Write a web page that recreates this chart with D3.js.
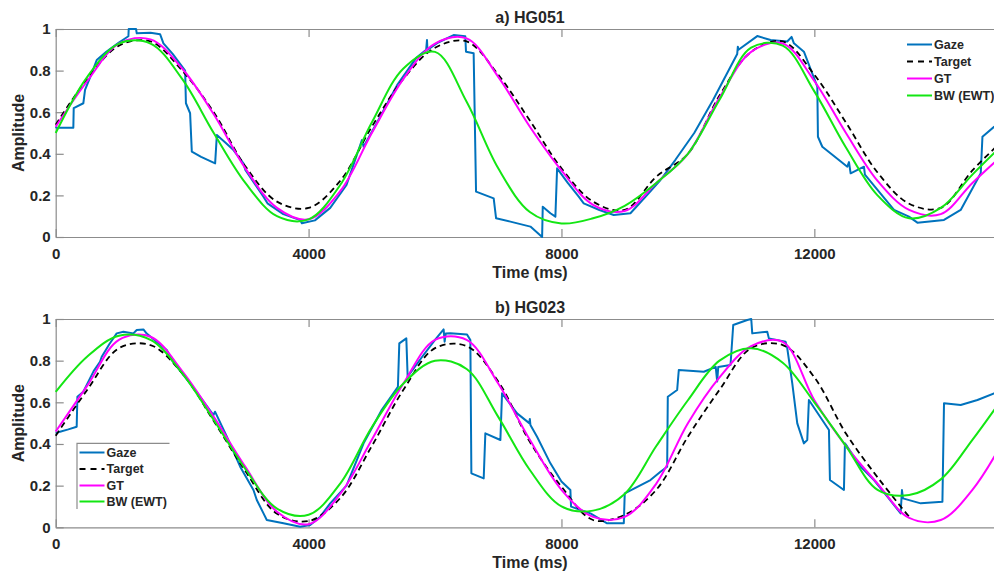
<!DOCTYPE html>
<html>
<head>
<meta charset="utf-8">
<script src="https://cdn.jsdelivr.net/npm/d3@7"></script>
<style>
  body { margin: 0; background: #fff; }
  text { font-family: "Liberation Sans", Arial, sans-serif; font-weight: bold; fill: #262626; }
</style>
</head>
<body>
<svg id="chart" width="994" height="575"></svg>
<script>
// sample times (ms) for the smooth curves
var sampleTimes = [0, 500, 1000, 1500, 2000, 2500, 3000, 3500, 4000, 4500, 5000, 5500, 6000, 6500, 7000, 7500,
  8000, 8500, 9000, 9500, 10000, 10500, 11000, 11500, 12000, 12500, 13000, 13500, 14000, 14500, 15000];

var xTicks = [0, 4000, 8000, 12000];
var yTicks = [0, 0.2, 0.4, 0.6, 0.8, 1];
var seriesNames = ['Gaze', 'Target', 'GT', 'BW (EWT)'];

// a) HG051
var targetA = [0.54, 0.76, 0.92, 0.94, 0.80, 0.60, 0.34, 0.17, 0.14, 0.27, 0.53, 0.76, 0.91, 0.94, 0.78, 0.56,
  0.33, 0.17, 0.13, 0.29, 0.40, 0.68, 0.89, 0.94, 0.78, 0.55, 0.31, 0.16, 0.14, 0.32, 0.47];
var gtA = [0.53, 0.75, 0.93, 0.95, 0.81, 0.59, 0.33, 0.14, 0.085, 0.22, 0.50, 0.76, 0.93, 0.955, 0.77, 0.53,
  0.32, 0.155, 0.125, 0.26, 0.40, 0.67, 0.89, 0.93, 0.75, 0.50, 0.27, 0.13, 0.11, 0.26, 0.40];
var bwA = [0.50, 0.77, 0.93, 0.93, 0.76, 0.50, 0.26, 0.10, 0.085, 0.25, 0.55, 0.81, 0.89, 0.65, 0.33, 0.12,
  0.065, 0.09, 0.15, 0.26, 0.40, 0.66, 0.91, 0.92, 0.70, 0.43, 0.20, 0.09, 0.14, 0.30, 0.45];
var gazeA = [[0,0.53],[16,0.525],[279,0.525],[285,0.62],[437,0.643],[464,0.707],[560,0.78],[649,0.851],[800,0.89],
  [1000,0.935],[1150,0.965],[1155,1.0],[1271,1.0],[1282,0.979],[1500,0.982],[1651,0.975],[1704,0.931],[1850,0.88],
  [2047,0.80],[2060,0.643],[2126,0.595],[2153,0.41],[2300,0.385],[2522,0.354],[2549,0.49],[2700,0.45],[2812,0.418],
  [2970,0.354],[3000,0.322],[3286,0.194],[3350,0.162],[3600,0.11],[3867,0.082],[3894,0.066],[4100,0.08],[4342,0.14],
  [4600,0.25],[4844,0.466],[4870,0.434],[5100,0.56],[5400,0.73],[5700,0.86],[5860,0.90],[5873,0.947],[5880,0.90],
  [6050,0.935],[6294,0.971],[6479,0.965],[6490,0.891],[6611,0.883],[6649,0.218],[6928,0.186],[6966,0.09],[7192,0.074],
  [7509,0.05],[7694,0.0],[7704,0.146],[7825,0.114],[7904,0.098],[7931,0.33],[8100,0.26],[8273,0.194],[8352,0.162],
  [8600,0.13],[8827,0.106],[9091,0.114],[9350,0.2],[9566,0.274],[9800,0.37],[10100,0.5],[10400,0.66],[10780,0.88],
  [10790,0.915],[10800,0.90],[11097,0.966],[11308,0.947],[11572,0.94],[11640,0.962],[11677,0.931],[11835,0.891],
  [11950,0.80],[12047,0.723],[12057,0.482],[12126,0.434],[12522,0.338],[12548,0.36],[12574,0.306],[12785,0.338],
  [12800,0.30],[13022,0.218],[13260,0.13],[13497,0.098],[13630,0.069],[14051,0.082],[14315,0.13],[14632,0.306],
  [14659,0.482],[14843,0.53],[15000,0.56]];

// b) HG023 (target stops at 13500 ms)
var targetB = [0.44, 0.66, 0.86, 0.875, 0.74, 0.51, 0.27, 0.065, 0.03, 0.14, 0.39, 0.66, 0.86, 0.87, 0.70, 0.41,
  0.195, 0.035, 0.06, 0.18, 0.435, 0.66, 0.86, 0.875, 0.72, 0.45, 0.24, 0.05];
var gtB = [0.46, 0.68, 0.90, 0.915, 0.75, 0.53, 0.29, 0.075, 0.015, 0.16, 0.42, 0.69, 0.90, 0.90, 0.69, 0.42,
  0.18, 0.05, 0.05, 0.21, 0.50, 0.72, 0.87, 0.89, 0.61, 0.39, 0.21, 0.045, 0.035, 0.18, 0.42];
var bwB = [0.65, 0.82, 0.92, 0.90, 0.74, 0.515, 0.28, 0.09, 0.06, 0.21, 0.48, 0.69, 0.80, 0.76, 0.53, 0.275,
  0.10, 0.08, 0.16, 0.39, 0.61, 0.80, 0.86, 0.79, 0.60, 0.39, 0.18, 0.155, 0.23, 0.42, 0.63];
var gazeB = [[0,0.451],[68,0.459],[200,0.47],[332,0.483],[343,0.627],[437,0.651],[600,0.75],[701,0.795],[728,0.819],
  [850,0.88],[965,0.931],[1071,0.939],[1229,0.931],[1282,0.947],[1387,0.95],[1440,0.93],[1600,0.89],[1757,0.851],
  [1836,0.803],[2100,0.70],[2300,0.62],[2495,0.539],[2520,0.555],[2700,0.44],[2918,0.291],[3128,0.179],[3181,0.131],
  [3287,0.067],[3339,0.035],[3603,0.019],[3867,0.003],[4026,0.011],[4184,0.051],[4342,0.115],[4600,0.20],[4870,0.403],
  [5150,0.56],[5413,0.675],[5435,0.883],[5546,0.907],[5567,0.723],[5800,0.82],[6000,0.90],[6136,0.95],[6152,0.891],
  [6170,0.93],[6242,0.931],[6506,0.926],[6559,0.899],[6575,0.259],[6770,0.235],[6796,0.451],[7034,0.419],[7060,0.643],
  [7298,0.547],[7490,0.50],[7500,0.52],[7509,0.491],[7614,0.435],[7825,0.307],[8000,0.22],[8141,0.179],[8152,0.099],
  [8458,0.067],[8722,0.019],[8986,0.019],[9001,0.163],[9408,0.227],[9566,0.267],[9672,0.291],[9682,0.627],[9830,0.659],
  [9856,0.755],[10252,0.747],[10440,0.77],[10463,0.70],[10480,0.77],[10674,0.779],[10717,0.971],[10939,0.995],
  [11002,1.0],[11018,0.931],[11255,0.939],[11281,0.907],[11545,0.891],[11572,0.859],[11651,0.691],[11730,0.499],
  [11835,0.403],[11888,0.419],[11914,0.611],[12231,0.467],[12247,0.227],[12468,0.179],[12484,0.403],[12522,0.387],
  [12733,0.291],[12943,0.227],[13155,0.147],[13365,0.067],[13386,0.179],[13402,0.139],[13682,0.115],[14026,0.123],
  [14051,0.595],[14315,0.587],[14580,0.611],[14843,0.643],[15000,0.66]];

var colors = { gaze: '#0072BD', target: '#000000', gt: '#FF00FF', bw: '#13E613' };
var axisColor = '#8c8c8c';

var svg = d3.select('#chart');

// axis spans 0..15000 ms, right edge falls just outside the picture
var x = d3.scaleLinear().domain([0, 15000]).range([55.7, 1004]);

var toPoints = function(values) {
  return values.map(function(v, i) { return [sampleTimes[i], v]; });
};

var drawPanel = function(p) {
  var y = d3.scaleLinear().domain([0, 1]).range([p.bottom, p.top]);
  var g = svg.append('g');

  var smooth = d3.line()
    .x(function(d) { return x(d[0]); })
    .y(function(d) { return y(d[1]); })
    .curve(d3.curveCatmullRom.alpha(0.5));
  var raw = d3.line()
    .x(function(d) { return x(d[0]); })
    .y(function(d) { return y(d[1]); });

  // axes
  var xAxis = g.append('g')
    .attr('transform', 'translate(0,' + p.bottom + ')')
    .call(d3.axisBottom(x).tickValues(xTicks).tickFormat(d3.format('d'))
      .tickSizeInner(-8).tickSizeOuter(0).tickPadding(11.5));
  var xTop = g.append('g')
    .attr('transform', 'translate(0,' + p.top + ')')
    .call(d3.axisTop(x).tickValues(xTicks).tickFormat('').tickSizeInner(-8).tickSizeOuter(0));
  var yAxis = g.append('g')
    .attr('transform', 'translate(' + x(0) + ',0)')
    .call(d3.axisLeft(y).tickValues(yTicks).tickFormat(d3.format('~g'))
      .tickSizeInner(-8).tickSizeOuter(0).tickPadding(5));

  [xAxis, xTop, yAxis].forEach(function(a) {
    a.selectAll('path, line').attr('stroke', axisColor).attr('stroke-width', 1.2);
    a.selectAll('text').style('font-size', '15px').attr('fill', '#262626');
  });

  // series
  g.append('path').datum(p.gaze)
    .attr('d', raw).attr('fill', 'none')
    .attr('stroke', colors.gaze).attr('stroke-width', 2).attr('stroke-linejoin', 'round');
  g.append('path').datum(toPoints(p.target))
    .attr('d', smooth).attr('fill', 'none')
    .attr('stroke', colors.target).attr('stroke-width', 1.8).attr('stroke-dasharray', '6,4');
  g.append('path').datum(toPoints(p.gt))
    .attr('d', smooth).attr('fill', 'none')
    .attr('stroke', colors.gt).attr('stroke-width', 2);
  g.append('path').datum(toPoints(p.bw))
    .attr('d', smooth).attr('fill', 'none')
    .attr('stroke', colors.bw).attr('stroke-width', 2);

  // titles
  g.append('text').attr('x', 530).attr('y', p.top - 6.5)
    .attr('text-anchor', 'middle').style('font-size', '16px').text(p.title);
  g.append('text').attr('x', 530).attr('y', p.bottom + 41)
    .attr('text-anchor', 'middle').style('font-size', '16px').text('Time (ms)');
  g.append('text')
    .attr('transform', 'translate(24,' + ((p.top + p.bottom) / 2) + ') rotate(-90)')
    .attr('text-anchor', 'middle').style('font-size', '16px').text('Amplitude');

  // legend
  var lg = g.append('g');
  if (p.legendBox) {
    lg.append('path')
      .attr('d', 'M' + p.legendBox[0] + ',' + p.legendBox[3] + 'V' + p.legendBox[1] + 'H' + p.legendBox[2])
      .attr('fill', 'none').attr('stroke', axisColor).attr('stroke-width', 1.2);
  }
  var styles = [
    { c: colors.gaze, dash: null },
    { c: colors.target, dash: '6,5' },
    { c: colors.gt, dash: null },
    { c: colors.bw, dash: null }
  ];
  seriesNames.forEach(function(name, i) {
    var ly = p.legendY[i];
    lg.append('line')
      .attr('x1', p.legendX).attr('x2', p.legendX + 25)
      .attr('y1', ly).attr('y2', ly)
      .attr('stroke', styles[i].c).attr('stroke-width', 2)
      .attr('stroke-dasharray', styles[i].dash);
    lg.append('text')
      .attr('x', p.legendX + 27).attr('y', ly).attr('dy', '0.35em')
      .style('font-size', '12.5px').text(name);
  });
};

drawPanel({
  title: 'a) HG051', top: 29, bottom: 237,
  gaze: gazeA, target: targetA, gt: gtA, bw: bwA,
  legendX: 907, legendY: [44.5, 61.5, 78.5, 95.5], legendBox: null
});

drawPanel({
  title: 'b) HG023', top: 319, bottom: 527.3,
  gaze: gazeB, target: targetB, gt: gtB, bw: bwB,
  legendX: 79.5, legendY: [452.5, 469, 485.5, 501.5], legendBox: [77, 443.3, 169.5, 509]
});
</script>
</body>
</html>
